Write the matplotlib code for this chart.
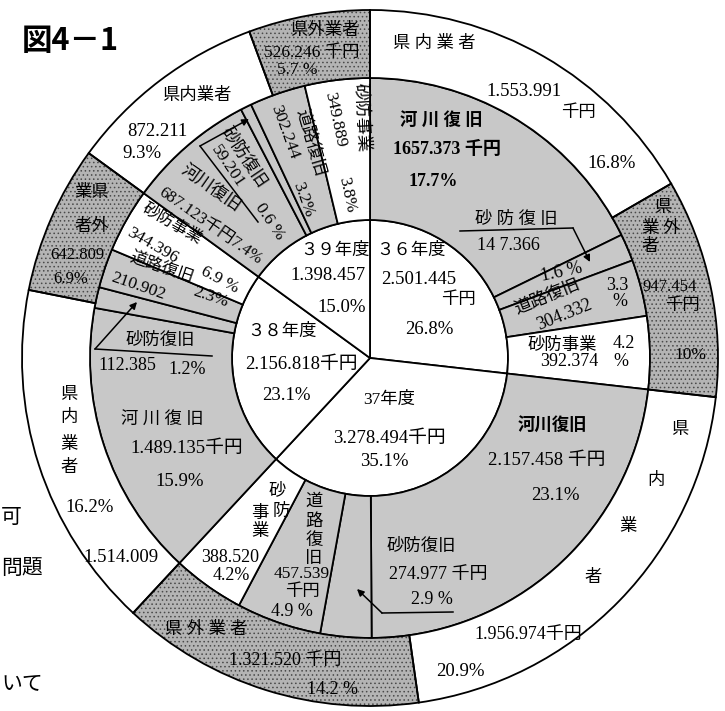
import matplotlib
matplotlib.use('Agg')
import matplotlib.pyplot as plt

plt.rcParams['font.family'] = ['Liberation Serif', 'Noto Sans CJK JP', 'DejaVu Sans']
plt.rcParams['hatch.linewidth'] = 0.6

# data (千円), fiscal years 36..39
years = ['36年度', '37年度', '38年度', '39年度']
year_totals = [2501445, 3278494, 2156818, 1398457]

# works by type
kasen_fukkyu = [1657373, 2157458, 1489135, 687123]   # 河川復旧
sabo_fukkyu = [147366, 274977, 112385, 59201]        # 砂防復旧
doro_fukkyu = [304332, 457539, 210902, 302244]       # 道路復旧
sabo_jigyo = [392374, 388520, 344396, 349889]        # 砂防事業

# contractors
kennai = [1553991, 1956974, 1514009, 872211]         # 県内業者
kengai = [947454, 1321520, 642809, 526246]           # 県外業者

W, H = 725, 711
cx, cy = 370, H - 358
r_in, r_mid, r_out = 138, 280, 348

GRAY = '#c8c8c8'
DOTS = '#b4b4b4'

fig = plt.figure(figsize=(W / 100, H / 100), dpi=100)
ax = fig.add_axes([0, 0, 1, 1])

wp = dict(edgecolor='black', linewidth=1.3)

# inner: years
ax.pie(year_totals, radius=r_in, center=(cx, cy), startangle=90,
       counterclock=False, colors=['white'] * 4, wedgeprops=wp)

# middle: works
mid_vals, mid_cols = [], []
for i in range(4):
    mid_vals += [kasen_fukkyu[i], sabo_fukkyu[i], doro_fukkyu[i], sabo_jigyo[i]]
    mid_cols += [GRAY, GRAY, GRAY, 'white']
ax.pie(mid_vals, radius=r_mid, center=(cx, cy), startangle=90,
       counterclock=False, colors=mid_cols,
       wedgeprops=dict(width=r_mid - r_in, **wp))

# outer: contractors (stipple for 県外業者, then black outlines on top)
out_vals, out_cols = [], []
for i in range(4):
    out_vals += [kennai[i], kengai[i]]
    out_cols += ['white', DOTS]
wedges, _ = ax.pie(out_vals, radius=r_out, center=(cx, cy), startangle=90,
                   counterclock=False, colors=out_cols,
                   wedgeprops=dict(width=r_out - r_mid, edgecolor='black', linewidth=0))
for w in wedges[1::2]:
    w.set_edgecolor('#4a4a4a')
    w.set_hatch('....')
ax.pie(out_vals, radius=r_out, center=(cx, cy), startangle=90,
       counterclock=False, colors=['none'] * len(out_vals),
       wedgeprops=dict(width=r_out - r_mid, **wp))

ax.set_xlim(0, W)
ax.set_ylim(0, H)
ax.set_aspect('equal')
ax.axis('off')

CJK = 12.5
NUM = 13.5


def lab(x, y, s, size=CJK, rot=0, **kw):
    kw.setdefault('ha', 'center')
    ax.text(x, H - y, s, fontsize=size, rotation=rot, va='center',
            rotation_mode='anchor', **kw)


def leader(pts, arrow_to=None):
    xs = [p[0] for p in pts]
    ys = [H - p[1] for p in pts]
    ax.plot(xs, ys, color='black', lw=1.1)
    if arrow_to is not None:
        ax.annotate('', xy=(arrow_to[0], H - arrow_to[1]),
                    xytext=(pts[-1][0], H - pts[-1][1]),
                    arrowprops=dict(arrowstyle='-|>', color='black', lw=1.1,
                                    mutation_scale=10, shrinkA=0, shrinkB=0))


# title and body text fragments at left margin
lab(22, 41, '図4－1', size=22, weight='bold', ha='left', family='Noto Sans CJK JP')
lab(1, 517, '可', size=15, ha='left', family='Noto Sans CJK JP')
lab(1, 568, '問題', size=15, ha='left', family='Noto Sans CJK JP')
lab(1, 683, 'いて', size=15, ha='left', family='Noto Sans CJK JP')

# inner circle
lab(335, 251, '３９年度')
lab(328, 275, '1.398.457', NUM)
lab(342, 307, '15.0%', NUM)
lab(411, 251, '３６年度')
lab(419, 280, '2.501.445', NUM)
lab(458, 300, '千円')
lab(429, 330, '26.8%', NUM)
lab(282, 332, '３８年度')
lab(301, 365, '2.156.818千円', NUM)
lab(286, 396, '23.1%', NUM)
lab(389, 400, '37年度')
lab(389, 439, '3.278.494千円', NUM)
lab(384, 461, '35.1%', NUM)

# 36年度 works
lab(441, 120, '河 川 復 旧', weight='bold')
lab(447, 149, '1657.373 千円', 13, weight='bold')
lab(433, 181, '17.7%', 13, weight='bold')
lab(516, 220, '砂 防 復 旧')
lab(508, 245, '14 7.366', 13)
leader([(460, 231), (573, 228)], arrow_to=(590, 262))
lab(562, 272, '1.6 %', 13, rot=12)
lab(548, 297, '道路復旧', rot=22)
lab(564, 315, '304.332', 13, rot=22)
lab(617, 285, '3.3', 13)
lab(620, 301, '%', 13)
lab(562, 346, '砂防事業')
lab(624, 344, '4.2', 13)
lab(569, 362, '392.374', 13)
lab(621, 362, '%', 13)

# 36年度 contractors
lab(434, 44, '県 内 業 者')
lab(524, 92, '1.553.991', NUM)
lab(578, 113, '千円')
lab(612, 163, '16.8%', NUM)
lab(663, 208, '県')
lab(671, 229, '外')
lab(650, 229, '業')
lab(650, 247, '者')
lab(670, 287, '947.454', 12)
lab(682, 306, '千円')
lab(690, 355, '10%', 12.5)

# 37年度 works
lab(552, 425, '河川復旧', weight='bold')
lab(547, 461, '2.157.458 千円', NUM)
lab(555, 495, '23.1%', NUM)
lab(421, 547, '砂防復旧')
lab(438, 575, '274.977 千円', 13)
lab(432, 600, '2.9 %', 13)
leader([(453, 612), (382, 613)], arrow_to=(357, 589))
for ch, yy in zip('道路復旧', [502, 522, 541, 559]):
    lab(314, yy, ch)
lab(302, 574, '457.539', 12.5)
lab(302, 592, '千円')
lab(292, 612, '4.9 %', 13)
lab(277, 491, '砂')
lab(281, 512, '防')
lab(260, 514, '事')
lab(260, 532, '業')
lab(230, 558, '388.520', 13)
lab(231, 576, '4.2%', 13)

# 37年度 contractors
lab(680, 430, '県')
lab(656, 481, '内')
lab(628, 527, '業')
lab(593, 578, '者')
lab(528, 634, '1.956.974千円', 13)
lab(460, 672, '20.9%', NUM)
lab(206, 630, '県 外 業 者')
lab(285, 660, '1.321.520 千円', 13)
lab(333, 690, '14.2 %', 13)

# 38年度 works
lab(162, 421, '河 川 復 旧')
lab(187, 449, '1.489.135千円', NUM)
lab(180, 481, '15.9%', NUM)
lab(160, 341, '砂防復旧')
leader([(212, 356), (95, 349)], arrow_to=(137, 302))
lab(127, 366, '112.385', 13)
lab(187, 369, '1.2%', 13)
lab(162, 268, '道路復旧', 12, rot=-19)
lab(138, 286, '210.902', 12.5, rot=-19)
lab(211, 297, '2.3%', 12.5, rot=-19)
lab(172, 224, '砂防事業', 12, rot=-30)
lab(153, 246, '344.396', 12.5, rot=-30)
lab(220, 280, '6.9 %', 12.5, rot=-28)

# 38年度 contractors
lab(92, 193, '業県')
lab(92, 227, '者外')
lab(77, 255, '642.809', 12)
lab(71, 279, '6.9%', 12)
for ch, yy in zip('県内業者', [395, 418, 445, 468]):
    lab(69, yy, ch)
lab(90, 507, '16.2%', NUM)
lab(121, 557, '1.514.009', NUM)

# 39年度 works
lab(210, 190, '河川復旧', rot=-35)
lab(210, 226, '687.123千円7.4%', 12, rot=-35)
lab(243, 158, '砂防復旧', rot=-56)
lab(228, 167, '59.201', 12.5, rot=-56)
lab(270, 222, '0.6 %', 12.5, rot=-56)
leader([(258, 222), (200, 146)], arrow_to=(249, 119))
lab(310, 143, '道路復旧', rot=-74)
lab(285, 132, '302.244', 12.5, rot=-70)
lab(303, 200, '3.2%', 12.5, rot=-70)
lab(360, 117, '砂防事業', rot=-87)
lab(335, 120, '349.889', 12.5, rot=-78)
lab(347, 195, '3.8%', 12.5, rot=-78)

# 39年度 contractors
lab(197, 96, '県内業者')
lab(157, 132, '872.211', NUM)
lab(142, 153, '9.3%', NUM)
lab(325, 31, '県外業者')
lab(312, 53, '526.246 千円', 12.5)
lab(297, 70, '5.7 %', 12.5)

fig.savefig('out.png', dpi=100)
